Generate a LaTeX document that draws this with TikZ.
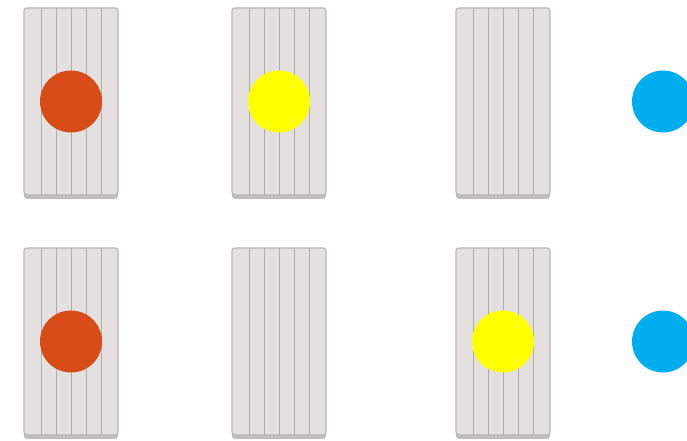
\documentclass[tikz,border=0pt]{standalone}
\usepackage{xcolor}
\usepackage{tikz}
\usetikzlibrary{shadows}
\definecolor{cardfill}{RGB}{229, 224, 224}
\definecolor{cardedge}{RGB}{186, 180, 180}
\definecolor{stripegray}{RGB}{180, 172, 172}
\definecolor{tokenred}{RGB}{216,  76,  24}
\definecolor{tokenyellow}{RGB}{255, 255,   0}
\definecolor{tokenblue}{RGB}{  0, 174, 239}

\begin{document}
\begin{tikzpicture}[x=1pt, y=-1pt,
  card/.style={draw=cardedge, fill=cardfill, rounded corners=3pt,
               minimum width=94pt, minimum height=187pt, line width=1.2pt,
               drop shadow={shadow xshift=0pt, shadow yshift=-4pt, opacity=0.5, fill=gray},
               path picture={
                 \foreach \dx in {-30,-15,0,15,30}
                   \draw[stripegray, line width=0.7pt]
                     ([xshift=\dx pt]path picture bounding box.north)
                     -- ([xshift=\dx pt]path picture bounding box.south);
               }},
  token/.style={circle, minimum size=62pt, inner sep=0pt}
]
  \useasboundingbox (0,0) rectangle (687,441);

  % top row
  \node[card] (c11) at (71,101.5) {};
  \node[card] (c12) at (279,101.5) {};
  \node[card] (c13) at (503,101.5) {};
  \node[token, fill=tokenred]    (t11) at (c11.center) {};
  \node[token, fill=tokenyellow] (t12) at (c12.center) {};
  \node[token, fill=tokenblue]   (t14) at (663,101.5) {};

  % bottom row
  \node[card] (c21) at (71,341.5) {};
  \node[card] (c22) at (279,341.5) {};
  \node[card] (c23) at (503,341.5) {};
  \node[token, fill=tokenred]    (t21) at (c21.center) {};
  \node[token, fill=tokenyellow] (t23) at (c23.center) {};
  \node[token, fill=tokenblue]   (t24) at (663,341.5) {};
\end{tikzpicture}
\end{document}
